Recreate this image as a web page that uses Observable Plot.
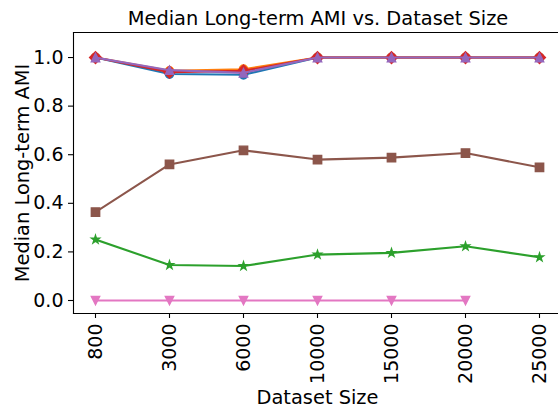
<!DOCTYPE html>
<html>
<head>
<meta charset="utf-8">
<script src="https://cdn.jsdelivr.net/npm/d3@7"></script>
<script src="https://cdn.jsdelivr.net/npm/@observablehq/plot@0.6"></script>
<style>
  body { margin: 0; background: #fff; }
</style>
</head>
<body>
<div id="chart"></div>
<script>
// Dataset sizes (categorical x positions)
const sizes = ["800", "3000", "6000", "10000", "15000", "20000", "25000"];

// Median long-term AMI per method, one value per dataset size
const amiBlue   = [1.000, 0.932, 0.929, 1.000, 1.000, 1.000, 1.000];
const amiOrange = [1.000, 0.945, 0.952, 1.000, 1.000, 1.000, 1.000];
const amiGreen  = [0.251, 0.146, 0.142, 0.189, 0.196, 0.223, 0.178];
const amiRed    = [1.000, 0.940, 0.945, 1.000, 1.000, 1.000, 1.000];
const amiPurple = [1.000, 0.948, 0.937, 1.000, 1.000, 1.000, 1.000];
const amiBrown  = [0.364, 0.560, 0.618, 0.580, 0.588, 0.607, 0.548];
const amiPink   = [0.000, 0.000, 0.000, 0.000, 0.000, 0.000, null];

const yTicks = [0.0, 0.2, 0.4, 0.6, 0.8, 1.0];

// Marker shapes, sized like 6pt markers
const M = 4.17;
const circle = {draw(c) { c.moveTo(M, 0); c.arc(0, 0, M, 0, 2 * Math.PI); c.closePath(); }};
const triUp = {draw(c) { c.moveTo(0, -M); c.lineTo(M, M); c.lineTo(-M, M); c.closePath(); }};
const triDown = {draw(c) { c.moveTo(0, M); c.lineTo(M, -M); c.lineTo(-M, -M); c.closePath(); }};
const square = {draw(c) { c.moveTo(-M, -M); c.lineTo(M, -M); c.lineTo(M, M); c.lineTo(-M, M); c.closePath(); }};
const diamond = {draw(c) { const d = M * Math.SQRT2; c.moveTo(0, -d); c.lineTo(d, 0); c.lineTo(0, d); c.lineTo(-d, 0); c.closePath(); }};
const star = {draw(c) {
  const ri = M * 0.381966;
  for (let i = 0; i < 10; i++) {
    const r = i % 2 ? ri : M;
    const a = -Math.PI / 2 + i * Math.PI / 5;
    const px = r * Math.cos(a), py = r * Math.sin(a);
    i ? c.lineTo(px, py) : c.moveTo(px, py);
  }
  c.closePath();
}};

const series = [
  {values: amiBlue,   color: "#1f77b4", symbol: circle},
  {values: amiOrange, color: "#ff7f0e", symbol: circle},
  {values: amiGreen,  color: "#2ca02c", symbol: star},
  {values: amiRed,    color: "#d62728", symbol: diamond},
  {values: amiPurple, color: "#9467bd", symbol: triUp},
  {values: amiBrown,  color: "#8c564b", symbol: square},
  {values: amiPink,   color: "#e377c2", symbol: triDown}
];

const yMin = -0.0535, yMax = 1.103;
const tickFont = 19;
const labelFont = 19.4;

const seriesMarks = series.flatMap(s => {
  const rows = sizes.map((size, i) => ({size, ami: s.values[i]})).filter(d => d.ami != null);
  return [
    Plot.line(rows, {x: "size", y: "ami", stroke: s.color, strokeWidth: 2.1, strokeLinejoin: "round", strokeLinecap: "square"}),
    Plot.dot(rows, {x: "size", y: "ami", symbol: () => s.symbol, fill: s.color, stroke: s.color, strokeWidth: 1.39})
  ];
});

const chart = Plot.plot({
  width: 558,
  height: 410,
  marginLeft: 73,
  marginRight: 0,
  marginTop: 32,
  marginBottom: 97,
  style: {fontFamily: "DejaVu Sans", fontSize: tickFont + "px", color: "#000", background: "#fff", overflow: "visible"},
  x: {type: "point", domain: sizes, range: [95, 539], padding: 0, label: null},
  y: {domain: [yMin, yMax], label: null},
  symbol: {type: "identity"},
  marks: [
    Plot.axisY(yTicks, {tickFormat: d => d.toFixed(1), tickSize: 5, tickPadding: 5, fontSize: tickFont, label: null, strokeWidth: 1.1}),
    Plot.axisX({tickRotate: -90, tickSize: 5, tickPadding: 5, fontSize: tickFont, label: null, strokeWidth: 1.1}),
    Plot.frame({anchor: "left", strokeWidth: 1.1}),
    Plot.frame({anchor: "top", strokeWidth: 1.1}),
    Plot.frame({anchor: "bottom", strokeWidth: 1.1}),
    ...seriesMarks,
    Plot.text(["Median Long-term AMI vs. Dataset Size"], {frameAnchor: "top", dx: 2, dy: -14, lineAnchor: "middle", textAnchor: "middle", fontSize: labelFont, fill: "#000"}),
    Plot.text(["Dataset Size"], {frameAnchor: "bottom", dx: 1.5, dy: 84, lineAnchor: "middle", textAnchor: "middle", fontSize: labelFont, fill: "#000"}),
    Plot.text(["Median Long-term AMI"], {frameAnchor: "left", dx: -51, rotate: -90, lineAnchor: "middle", textAnchor: "middle", fontSize: labelFont, fill: "#000"})
  ]
});

document.getElementById("chart").appendChild(chart);
</script>
</body>
</html>
